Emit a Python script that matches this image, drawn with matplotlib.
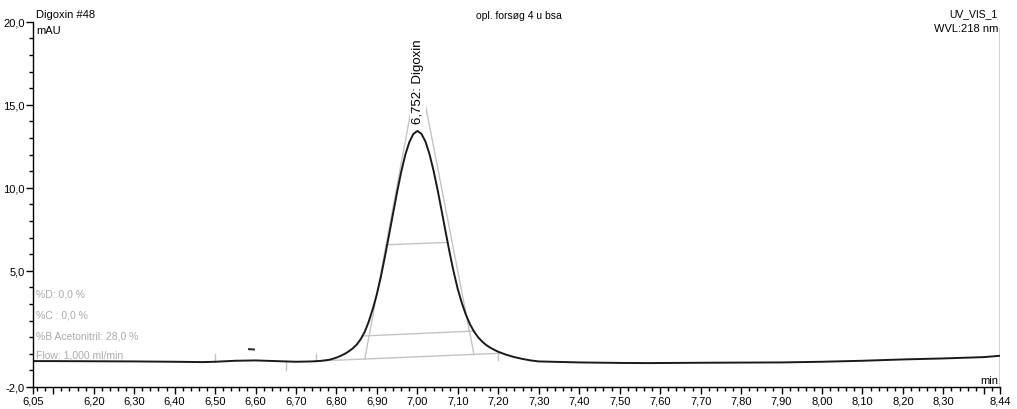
import numpy as np
import matplotlib as mpl
import matplotlib.pyplot as plt
mpl.use('Agg')

# chromatogram trace (min, mAU)
time = [6.05, 6.10, 6.20, 6.30, 6.40, 6.47, 6.50, 6.55, 6.60, 6.65, 6.70, 6.74, 6.76,
        6.78, 6.79, 6.80, 6.81, 6.82, 6.83, 6.84, 6.85, 6.86, 6.87, 6.88, 6.89,
        6.90, 6.91, 6.92, 6.93, 6.94, 6.95, 6.96, 6.97, 6.98, 6.99, 7.00,
        7.01, 7.02, 7.03, 7.04, 7.05, 7.06, 7.07, 7.08, 7.09, 7.10, 7.11,
        7.12, 7.13, 7.14, 7.15, 7.16, 7.17, 7.18, 7.19, 7.20, 7.22, 7.24,
        7.26, 7.28, 7.30, 7.40, 7.50, 7.57, 7.70, 7.80, 7.90, 8.00, 8.10,
        8.20, 8.30, 8.40, 8.44]
signal = [-0.44, -0.44, -0.45, -0.46, -0.48, -0.50, -0.48, -0.42, -0.40, -0.44, -0.48, -0.46, -0.43,
          -0.37, -0.31, -0.23, -0.13, -0.01, 0.14, 0.32, 0.55, 0.88, 1.33, 1.95, 2.72,
          3.60, 4.66, 5.88, 7.16, 8.46, 9.75, 10.95, 11.97, 12.74, 13.24, 13.42,
          13.25, 12.78, 12.02, 11.03, 9.87, 8.61, 7.32, 6.06, 4.90, 3.88, 3.05,
          2.35, 1.78, 1.34, 1.00, 0.74, 0.53, 0.37, 0.24, 0.12, -0.06, -0.20,
          -0.31, -0.40, -0.46, -0.52, -0.55, -0.56, -0.54, -0.53, -0.52, -0.48, -0.42,
          -0.34, -0.28, -0.20, -0.12]

# peak integration helpers (grey lines)
base_t = [6.747, 7.204]
base_v = [-0.44, 0.03]
tang_t = [6.870, 7.003, 7.140]
tang_v = [-0.32, 17.1, -0.05]
w10_t = [6.863, 7.142]
w10_v = [1.07, 1.37]
w50_t = [6.928, 7.076]
w50_v = [6.57, 6.71]
marks_up = [6.50, 6.75]
marks_down = [6.675, 7.20]

xticks_major = [6.05, 6.10, 6.20, 6.30, 6.40, 6.50, 6.60, 6.70, 6.80, 6.90, 7.00, 7.10, 7.20,
                7.30, 7.40, 7.50, 7.60, 7.70, 7.80, 7.90, 8.00, 8.10, 8.20, 8.30, 8.40, 8.44]
xtick_labels = ['' if t in (6.10, 8.40) else ('%.2f' % t).replace('.', ',') for t in xticks_major]
yticks_major = [20.0, 15.0, 10.0, 5.0, -2.0]
ytick_labels = [('%.1f' % v).replace('.', ',') for v in yticks_major]

info_lines = ['%D: 0,0 %', '%C : 0,0 %', '%B Acetonitril: 28,0 %', 'Flow: 1,000 ml/min']
info_v = [3.66, 2.39, 1.13, -0.02]

plt.rcParams['font.family'] = ['Liberation Sans', 'DejaVu Sans']
plt.rcParams['font.size'] = 8

fig = plt.figure(figsize=(10.17, 4.10), dpi=100)
ax = fig.add_axes([33/1017, 1-388/410, (1000-33)/1017, (388-22.7)/410])
ax.set_xlim(6.05, 8.44)
ax.set_ylim(-2.0, 20.0)

grey = '#c4c4c4'
ax.plot(base_t, base_v, color=grey, lw=1.0)
ax.plot(tang_t, tang_v, color=grey, lw=1.0)
ax.plot(w10_t, w10_v, color=grey, lw=1.0)
ax.plot(w50_t, w50_v, color=grey, lw=1.0)
for t in marks_up:
    y0 = np.interp(t, time, signal)
    ax.plot([t, t], [y0, y0 + 0.45], color=grey, lw=1.0)
for t in marks_down:
    y0 = np.interp(t, time, signal)
    ax.plot([t, t], [y0, y0 - 0.5], color=grey, lw=1.0)
ax.plot([6.584, 6.596], [0.28, 0.26], color='#333333', lw=1.5)

ax.plot(time, signal, color='#1a1a1a', lw=1.4)

# peak label, white box hides the tangent apex
ax.text(7.002, 13.9, '6,752: Digoxin', rotation=90, ha='center', va='bottom',
        fontsize=9.5, bbox=dict(facecolor='white', edgecolor='none', pad=1.5))

for s, v in zip(info_lines, info_v):
    ax.text(0.003, v, s, transform=ax.get_yaxis_transform(), color='#ababab',
            ha='left', va='center', fontsize=7.5)
ax.text(8.435, -1.6, 'min', ha='right', va='center', fontsize=8)

# spines / ticks
ax.spines['top'].set_visible(False)
ax.spines['right'].set_visible(False)
ax.axvline(8.44, ymax=0.983, color='#1a1a1a', lw=1.0)
ax.spines['left'].set_linewidth(1.0)
ax.spines['bottom'].set_linewidth(1.0)

ax.set_xticks(xticks_major)
ax.set_xticklabels(xtick_labels)
ax.set_xticks(np.arange(6.06, 8.44, 0.02), minor=True)
ax.set_yticks(yticks_major)
ax.set_yticklabels(ytick_labels)
ax.set_yticks(np.arange(-1.0, 20.0, 1.0), minor=True)
ax.tick_params(axis='both', which='major', direction='out', length=5, width=1.0, pad=1, labelsize=8)
ax.tick_params(axis='both', which='minor', direction='out', length=3, width=1.0)

fig.text(36/1017, 1-15/410, 'Digoxin #48', ha='left', va='center', fontsize=8)
fig.text(36/1017, 1-31/410, 'mAU', ha='left', va='center', fontsize=8)
fig.text(519/1017, 1-16/410, 'opl. forsøg 4 u bsa', ha='center', va='center', fontsize=7.5)
fig.text(998/1017, 1-14/410, 'UV_VIS_1', ha='right', va='center', fontsize=7.5)
fig.text(998/1017, 1-29/410, 'WVL:218 nm', ha='right', va='center', fontsize=8)

fig.savefig('out.png', dpi=100)
